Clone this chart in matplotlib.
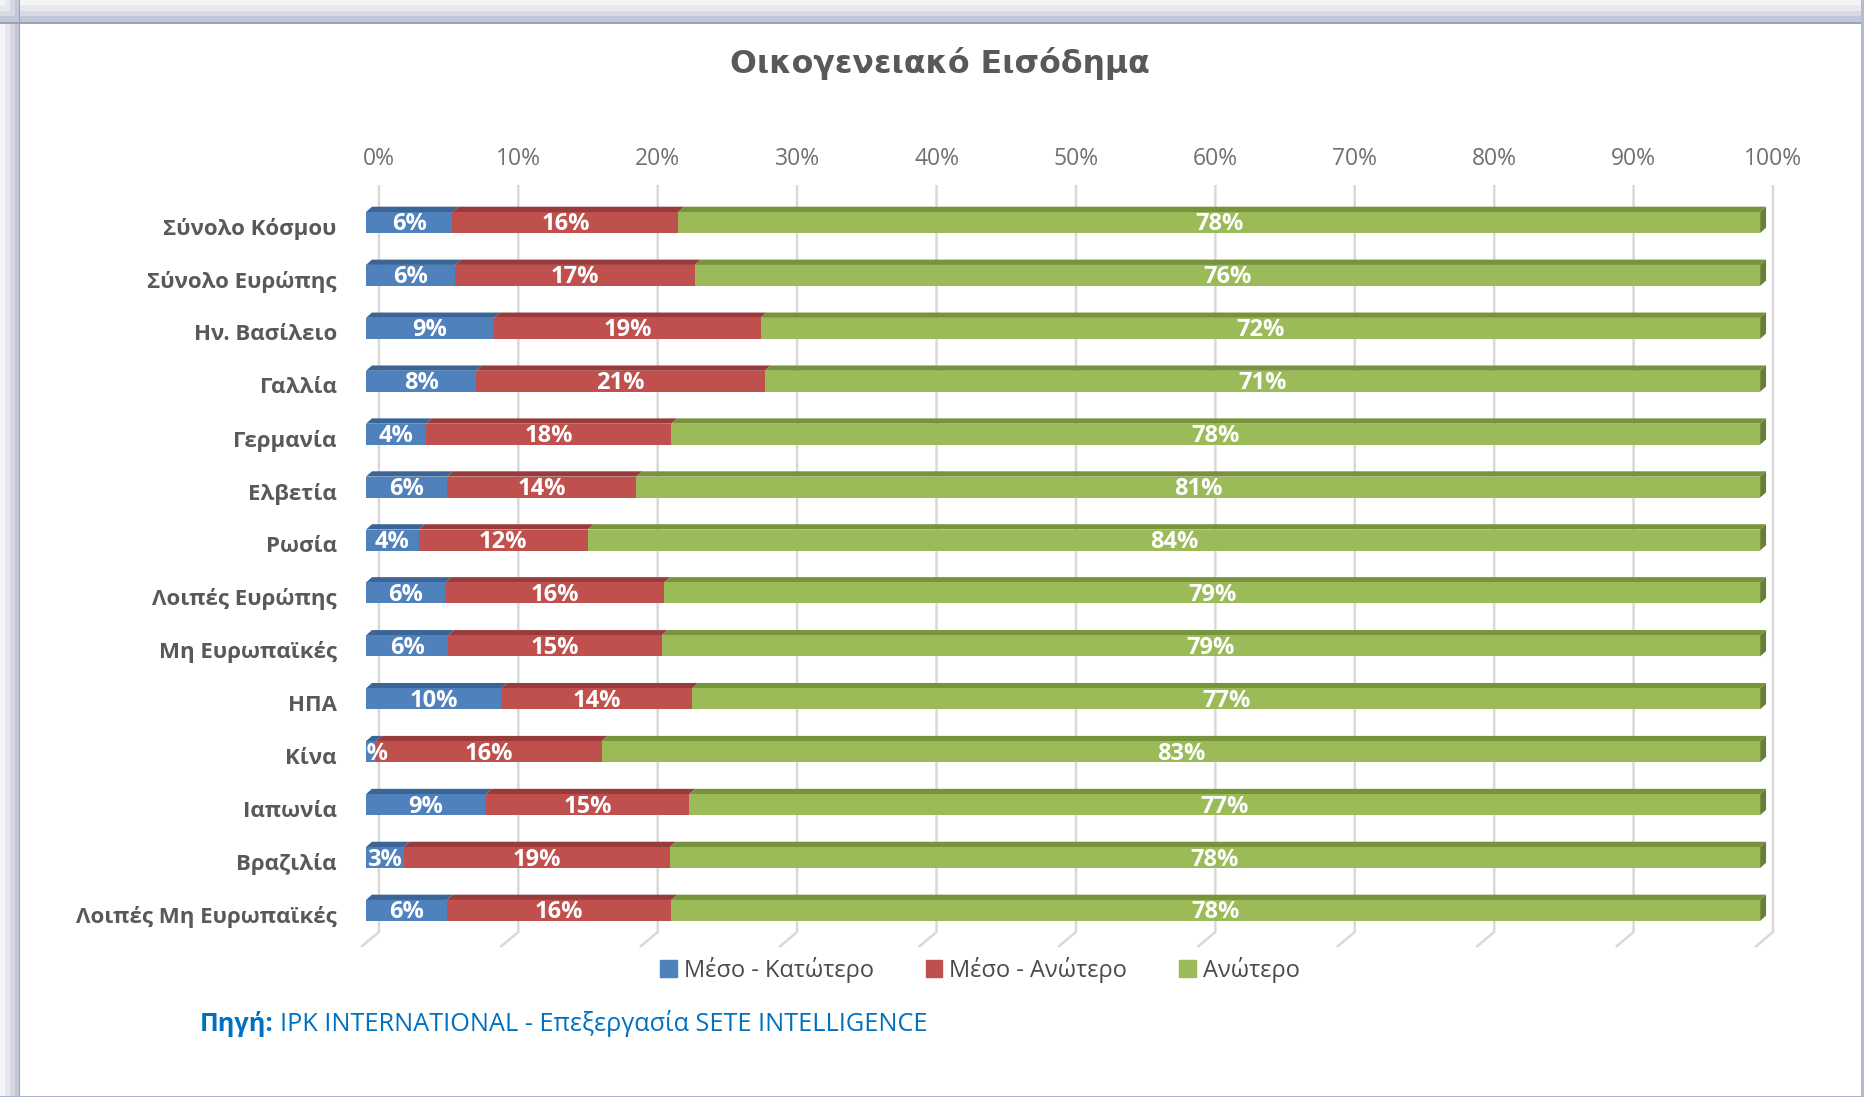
import numpy as np
import matplotlib
matplotlib.use("Agg")
import matplotlib.pyplot as plt
from matplotlib.patches import Polygon, Rectangle
from matplotlib.transforms import ScaledTranslation

# --- data ---
categories = ["Σύνολο Κόσμου", "Σύνολο Ευρώπης", "Ην. Βασίλειο", "Γαλλία", "Γερμανία",
              "Ελβετία", "Ρωσία", "Λοιπές Ευρώπης", "Μη Ευρωπαϊκές", "ΗΠΑ", "Κίνα",
              "Ιαπωνία", "Βραζιλία", "Λοιπές Μη Ευρωπαϊκές"]
meso_katotero = [6.2, 6.4, 9.2, 7.9, 4.3, 5.8, 3.8, 5.7, 5.9, 9.7, 0.7, 8.6, 2.7, 5.8]
meso_anotero = [16.2, 17.2, 19.1, 20.7, 17.6, 13.6, 12.1, 15.7, 15.3, 13.7, 16.2, 14.6, 19.1, 16.1]
anotero = [77.6, 76.4, 71.7, 71.4, 78.1, 80.6, 84.1, 78.6, 78.8, 76.6, 83.1, 76.8, 78.2, 78.1]
series_names = ["Μέσο - Κατώτερο", "Μέσο - Ανώτερο", "Ανώτερο"]
x_ticks = np.arange(0, 101, 10)
x_tick_labels = ["{}%".format(t) for t in x_ticks]
title = "Οικογενειακό Εισόδημα"
source_bold = "Πηγή:"
source_rest = "IPK INTERNATIONAL - Επεξεργασία SETE INTELLIGENCE"

front_colors = ["#4F81BD", "#C0504D", "#9BBB59"]
top_colors = ["#3A6596", "#973C3A", "#77933C"]
side_color = "#667F33"

plt.rcParams["font.family"] = ["Open Sans", "DejaVu Sans"]

W, H = 1865, 1097
fig = plt.figure(figsize=(W / 100, H / 100), dpi=100)


def px_rect(x, y, w, h, color):
    # rectangle given in pixels from the top-left corner of the picture
    fig.add_artist(Rectangle((x / W, 1 - (y + h) / H), w / W, h / H, color=color,
                             transform=fig.transFigure, lw=0, zorder=0))


# window frame
for i, c in enumerate(["#f5f5f7", "#e8e9ee", "#d6d9e3", "#c2c8d8"]):
    px_rect(0, i * 5.5, W, 5.5, c)
    px_rect(i * 5, 0, 5, H, c)
px_rect(0, 22, W, 1.5, "#98a1bf")
px_rect(19, 0, 1.5, H, "#98a1bf")
px_rect(1861, 0, 4, H, "#b4bbd0")
px_rect(0, 1095.5, W, 2, "#aab2c8")

# plot area: front of bars from x=366px, rows from 222.5px, step 52.92px
plot_w = 1407
row_step = 52.92
y_top = (185 - 222.5) / row_step
y_bot = (932 - 222.5) / row_step
ax = fig.add_axes([366 / W, 1 - 932 / H, plot_w / W, 747 / H])
ax.set_xlim(0, 100)
ax.set_ylim(y_bot, y_top)
for s in ax.spines.values():
    s.set_visible(False)

px_per_pct = plot_w / 100
back_dx = 13 / px_per_pct          # back wall offset
dx = 6 / px_per_pct                # bar depth
dy = 5.3 / row_step
bar_h = 21 / row_step

# back wall gridlines and floor
for t in x_ticks:
    gx = t + back_dx
    ax.plot([gx, gx, gx - 18 / px_per_pct], [y_top, y_bot, y_bot + 15 / row_step],
            color="#D9D9D9", lw=1.8, clip_on=False, zorder=1, solid_capstyle="butt")

raw = np.array([meso_katotero, meso_anotero, anotero])
data = raw / raw.sum(axis=0) * 100
y = np.arange(len(categories))
lefts = np.zeros(len(categories))
label_trans = ax.transData + ScaledTranslation(0, -2 / 100, fig.dpi_scale_trans)

for k in range(3):
    vals = data[k]
    ax.barh(y, vals, left=lefts, height=bar_h, color=front_colors[k], lw=0, zorder=3)
    for yi, l, w, lab in zip(y, lefts, vals, raw[k]):
        top = yi - bar_h / 2
        ax.add_patch(Polygon([(l, top), (l + w, top), (l + w + dx, top - dy), (l + dx, top - dy)],
                             closed=True, color=top_colors[k], lw=0, zorder=2.5, clip_on=False))
        ax.text(l + w / 2, yi, "{:.0f}%".format(lab), ha="center", va="center", color="white",
                fontsize=17, fontweight="bold", zorder=4, clip_on=True, transform=label_trans)
    lefts = lefts + vals

# right side of the bars
for yi, r in zip(y, lefts):
    top = yi - bar_h / 2
    bot = yi + bar_h / 2
    ax.add_patch(Polygon([(r, top), (r + dx, top - dy), (r + dx, bot - dy), (r, bot)],
                         closed=True, color=side_color, lw=0, zorder=2.5, clip_on=False))

ax.xaxis.tick_top()
ax.set_xticks(x_ticks + back_dx, x_tick_labels)
ax.tick_params(axis="x", length=0, pad=10, labelsize=16.5, labelcolor="#707070")
ax.set_yticks(y, categories)
ax.tick_params(axis="y", length=0, pad=21)
shift_down = ScaledTranslation(0, -4 / 100, fig.dpi_scale_trans)
for lbl in ax.get_yticklabels():
    lbl.set_fontweight("bold")
    lbl.set_fontsize(16)
    lbl.set_color("#595959")
    lbl.set_transform(lbl.get_transform() + shift_down)

fig.text(940 / W, 1 - 64 / H, title, ha="center", va="center", fontsize=22.7,
         fontweight="bold", color="#595959", family="DejaVu Sans")

handles = [Rectangle((0, 0), 1, 1, color=c) for c in front_colors]
fig.legend(handles, series_names, loc="center", bbox_to_anchor=(980 / W, 1 - 970 / H), ncol=3,
           frameon=False, handlelength=0.7, handleheight=0.7, handletextpad=0.3,
           columnspacing=2.2, prop={"size": 17}, labelcolor="#4a4a4a")

t1 = fig.text(200 / W, 1 - 1031 / H, source_bold, ha="left", va="baseline", fontsize=18.2,
              fontweight="bold", color="#0070C0")
renderer = fig.canvas.get_renderer()
bb = t1.get_window_extent(renderer)
fig.text((bb.x1 + 6) / W, 1 - 1031 / H, source_rest, ha="left", va="baseline", fontsize=18.2,
         color="#0070C0")

fig.savefig("out.png", dpi=100)
